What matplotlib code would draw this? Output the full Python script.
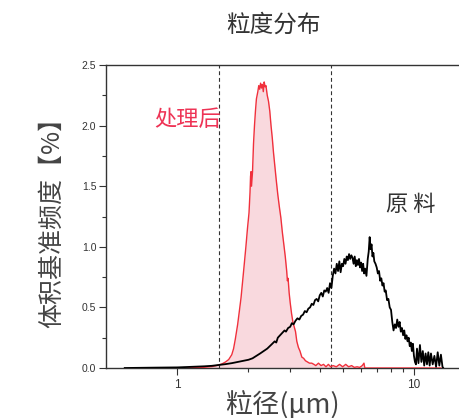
import matplotlib
matplotlib.use("Agg")
import matplotlib.pyplot as plt
from matplotlib.ticker import FixedLocator, NullFormatter, FixedFormatter

plt.rcParams['font.family'] = ['Noto Sans CJK SC', 'DejaVu Sans']

# 处理后 (treated) — particle size (µm) and frequency (%)
treated_x = [1.10, 1.20, 1.30, 1.40, 1.45, 1.50, 1.55, 1.60, 1.65, 1.70, 1.73, 1.76, 1.80, 1.83,
             1.86, 1.89, 1.92, 1.95, 1.98, 2.01, 2.03, 2.04, 2.05, 2.06, 2.08, 2.10, 2.12, 2.14,
             2.16, 2.19, 2.21, 2.23, 2.25, 2.27, 2.29, 2.31, 2.33, 2.35, 2.37, 2.40, 2.43, 2.46,
             2.49, 2.52, 2.55, 2.58, 2.62, 2.66, 2.70, 2.74, 2.78, 2.82, 2.86, 2.90, 2.92, 2.94,
             2.97, 3.00, 3.04, 3.08, 3.12, 3.16, 3.20, 3.25, 3.30, 3.36, 3.42, 3.48, 3.55, 3.62,
             3.70, 3.78, 3.85, 3.95, 4.05, 4.15, 4.25, 4.35, 4.45, 4.55, 4.70, 4.85, 5.00, 5.15,
             5.30, 5.45, 5.60, 5.75, 5.90, 6.05, 6.15, 6.20, 8.00, 13.0]
treated_y = [0.000, 0.003, 0.006, 0.012, 0.018, 0.025, 0.035, 0.050, 0.070, 0.110, 0.160, 0.240,
             0.360, 0.470, 0.580, 0.720, 0.860, 1.000, 1.150, 1.280, 1.450, 1.580, 1.620, 1.500,
             1.620, 1.850, 2.000, 2.120, 2.220, 2.280, 2.330, 2.300, 2.350, 2.310, 2.340, 2.280,
             2.360, 2.320, 2.330, 2.250, 2.200, 2.120, 2.000, 1.900, 1.780, 1.680, 1.550, 1.430,
             1.330, 1.240, 1.120, 1.020, 0.920, 0.800, 0.720, 0.740, 0.620, 0.540, 0.450, 0.380,
             0.340, 0.300, 0.220, 0.170, 0.140, 0.090, 0.080, 0.060, 0.050, 0.040, 0.040, 0.030,
             0.020, 0.040, 0.020, 0.030, 0.010, 0.030, 0.010, 0.020, 0.010, 0.030, 0.010, 0.030,
             0.010, 0.020, 0.005, 0.010, 0.005, 0.020, 0.040, 0.000, 0.000, 0.000]

# 原料 (raw material)
raw_x = [0.60, 0.70, 0.80, 0.90, 1.00, 1.10, 1.20, 1.30, 1.40, 1.50, 1.60, 1.70, 1.80, 1.90,
         2.00, 2.08, 2.16, 2.24, 2.32, 2.40, 2.46, 2.52, 2.58, 2.62, 2.66, 2.72, 2.78, 2.84,
         2.88, 2.94, 3.00, 3.05, 3.10, 3.16, 3.22, 3.28, 3.34, 3.40, 3.46, 3.52, 3.58, 3.64,
         3.70, 3.76, 3.82, 3.88, 3.94, 4.00, 4.06, 4.12, 4.18, 4.24, 4.30, 4.36, 4.42, 4.48,
         4.54, 4.60, 4.66, 4.72, 4.78, 4.84, 4.90, 4.96, 5.02, 5.08, 5.14, 5.20, 5.26, 5.32,
         5.38, 5.44, 5.50, 5.56, 5.62, 5.68, 5.74, 5.80, 5.86, 5.92, 5.98, 6.04, 6.10, 6.16,
         6.22, 6.30, 6.38, 6.44, 6.50, 6.56, 6.62, 6.68, 6.74, 6.80, 6.88, 6.96, 7.04, 7.12,
         7.20, 7.28, 7.36, 7.44, 7.52, 7.60, 7.70, 7.80, 7.90, 8.00, 8.10, 8.20, 8.30, 8.40,
         8.50, 8.60, 8.70, 8.80, 8.90, 9.00, 9.10, 9.20, 9.30, 9.40, 9.50, 9.60, 9.70, 9.80,
         9.90, 10.0, 10.1, 10.2, 10.3, 10.45, 10.6, 10.75, 10.9, 11.05, 11.2, 11.35, 11.5,
         11.65, 11.8, 12.0, 12.2, 12.4, 12.6, 12.8, 13.0, 13.2, 13.3]
raw_y = [0.000, 0.002, 0.003, 0.004, 0.005, 0.008, 0.010, 0.014, 0.018, 0.025, 0.032, 0.040,
         0.050, 0.060, 0.068, 0.080, 0.100, 0.120, 0.140, 0.160, 0.180, 0.200, 0.220, 0.210,
         0.250, 0.270, 0.290, 0.310, 0.300, 0.330, 0.340, 0.370, 0.360, 0.390, 0.410, 0.400,
         0.430, 0.440, 0.470, 0.460, 0.490, 0.500, 0.530, 0.520, 0.560, 0.570, 0.550, 0.600,
         0.620, 0.590, 0.640, 0.630, 0.660, 0.620, 0.700, 0.660, 0.760, 0.820, 0.780, 0.860,
         0.800, 0.880, 0.790, 0.860, 0.840, 0.900, 0.860, 0.920, 0.890, 0.940, 0.900, 0.930,
         0.910, 0.860, 0.920, 0.840, 0.890, 0.850, 0.900, 0.830, 0.870, 0.800, 0.860, 0.780,
         0.820, 0.760, 0.900, 0.960, 1.080, 0.980, 1.020, 0.920, 0.950, 0.880, 0.860, 0.830,
         0.780, 0.800, 0.720, 0.740, 0.680, 0.700, 0.630, 0.640, 0.560, 0.570, 0.500, 0.480,
         0.380, 0.310, 0.360, 0.330, 0.400, 0.340, 0.380, 0.300, 0.330, 0.270, 0.310, 0.240,
         0.270, 0.220, 0.250, 0.180, 0.210, 0.140, 0.200, 0.100, 0.050, 0.030, 0.160, 0.040,
         0.190, 0.050, 0.140, 0.020, 0.120, 0.030, 0.130, 0.020, 0.120, 0.030, 0.100, 0.010,
         0.130, 0.020, 0.110, 0.010, 0.000]

# dashed reference lines (µm)
ref_x = [1.5, 4.45]

x_major = [1, 10]
x_major_labels = ['1', '10']
x_minor = [2, 3, 4, 5, 6, 7, 8, 9]
y_major = [0.0, 0.5, 1.0, 1.5, 2.0, 2.5]
y_minor = [0.25, 0.75, 1.25, 1.75, 2.25]

fig = plt.figure(figsize=(4.59, 4.18), dpi=100)
ax = fig.add_axes([0.2309, 0.1196, 0.7691, 0.7249])

ax.fill_between(treated_x, treated_y, 0, color='#f9d9de', linewidth=0, zorder=1)
ax.plot(treated_x, treated_y, color='#f0303c', lw=1.0, zorder=3)
ax.plot(raw_x, raw_y, color='black', lw=1.3, zorder=4)
for xv in ref_x:
    ax.axvline(xv, color='#333333', lw=0.8, ls=(0, (3.5, 2.5)), zorder=2)

ax.set_xscale('log')
ax.set_xlim(0.5, 15.5)
ax.set_ylim(0, 2.5)

ax.xaxis.set_major_locator(FixedLocator(x_major))
ax.xaxis.set_major_formatter(FixedFormatter(x_major_labels))
ax.xaxis.set_minor_locator(FixedLocator(x_minor))
ax.xaxis.set_minor_formatter(NullFormatter())
ax.yaxis.set_major_locator(FixedLocator(y_major))
ax.yaxis.set_minor_locator(FixedLocator(y_minor))
ax.set_yticklabels([f'{v:.1f}' for v in y_major])

for lab in ax.get_xticklabels():
    lab.set_fontfamily(['Liberation Sans', 'DejaVu Sans'])
for lab in ax.get_yticklabels():
    lab.set_fontfamily(['Liberation Sans', 'DejaVu Sans'])

ax.tick_params(axis='both', which='major', direction='out', length=5, width=0.8,
               colors='#333333', labelsize=7.5, pad=2)
ax.tick_params(axis='both', which='minor', direction='out', length=3, width=0.8, colors='#333333')
ax.tick_params(axis='x', which='major', labelsize=8.5, pad=3)

for s in ['left', 'bottom', 'top']:
    ax.spines[s].set_color('#333333')
    ax.spines[s].set_linewidth(1.0)
ax.spines['right'].set_visible(False)

ax.set_xlabel('粒径(μm)', fontsize=19.5, color='#444444', labelpad=0)
ax.set_ylabel('体积基准频度【%】', fontsize=18, color='#444444', labelpad=12)

fig.text(0.595, 0.94, '粒度分布', fontsize=17, color='#333333', ha='center', va='center')
ax.text(1.11, 2.05, '处理后', fontsize=16, color='#ee3355', ha='center', va='center')
ax.text(9.7, 1.345, '原 料', fontsize=16, color='#333333', ha='center', va='center')

fig.savefig('out.png', dpi=100)
